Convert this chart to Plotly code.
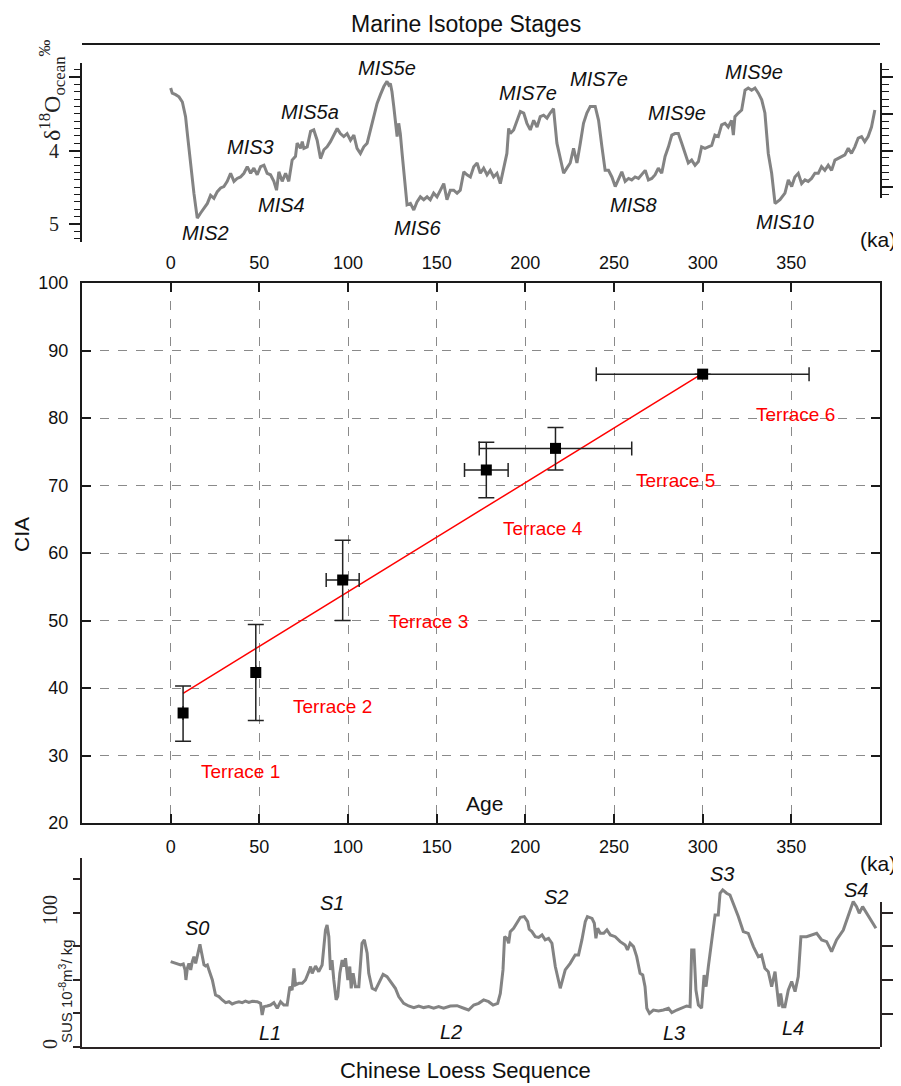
import plotly.graph_objects as go

# ---------------- data ----------------
MIS_AGE = [0.0, 0.9, 2.8, 4.7, 6.6, 7.5, 8.4, 9.4, 10.3, 11.3,
           12.2, 13.1, 14.1, 15.0, 16.9, 18.8, 20.7, 22.5, 24.4, 26.3,
           28.2, 30.0, 31.9, 33.8, 35.7, 37.5, 39.4, 41.3, 43.2, 45.1,
           46.9, 48.8, 50.7, 52.6, 54.4, 56.3, 58.2, 59.7, 61.0, 62.9,
           64.8, 66.6, 68.5, 70.4, 71.3, 73.2, 74.2, 75.1, 77.0, 78.9,
           80.7, 82.6, 84.5, 86.4, 88.2, 90.1, 92.0, 93.9, 95.7, 97.6,
           99.5, 101.4, 103.3, 105.1, 107.0, 108.9, 110.8, 112.6, 114.5, 116.4,
           118.3, 120.2, 122.0, 123.0, 123.9, 124.8, 125.8, 126.7, 127.7, 128.6,
           129.5, 130.5, 131.4, 132.4, 133.3, 135.2, 137.1, 138.9, 140.8, 142.7,
           144.6, 146.4, 148.3, 150.2, 152.1, 154.0, 155.8, 157.7,
           159.6, 161.5, 163.3, 165.3, 167.1, 169.0, 170.9, 172.8, 174.6, 176.5,
           178.4, 180.2, 182.1, 184.0, 185.9, 187.7, 189.6, 190.6, 191.5, 193.4,
           195.3, 197.2, 199.1, 200.9, 202.8, 204.7, 206.6, 208.4, 210.3, 212.2,
           214.0, 215.9, 217.8, 219.7, 221.6, 223.4, 225.3, 227.2, 229.1, 231.0,
           232.8, 234.7, 236.6, 239.4, 241.3, 243.2, 245.0, 246.9, 248.8, 250.7,
           252.5, 254.4, 256.3, 258.2, 260.0, 261.9, 263.8, 265.7, 267.6, 269.4,
           271.3, 273.2, 275.0, 276.9, 278.8, 280.7, 282.6, 284.4, 286.3, 288.2,
           290.1, 291.9, 293.8, 295.7, 297.6, 299.4, 301.3, 303.2, 305.1, 306.9,
           308.8, 310.7, 312.6, 314.4, 316.3, 317.3, 318.2, 320.1, 322.0, 323.9,
           325.7, 327.6, 329.5, 331.4, 333.3, 335.1, 337.0, 338.9, 340.8, 343.6,
           346.4, 348.3, 350.2, 352.0, 353.9, 355.8, 357.7, 359.5, 361.4, 363.3,
           365.2, 367.0, 368.9, 370.8, 372.7, 374.6, 376.4, 378.3, 380.2, 382.1,
           383.9, 385.8, 387.7, 389.6, 391.4, 393.3, 395.2, 397.1]
MIS_D18O = [3.15, 3.22, 3.24, 3.27, 3.34, 3.45, 3.54, 3.77, 3.99, 4.22,
            4.40, 4.58, 4.76, 4.92, 4.85, 4.79, 4.72, 4.61, 4.65, 4.56,
            4.51, 4.49, 4.42, 4.31, 4.42, 4.38, 4.36, 4.31, 4.22, 4.31,
            4.24, 4.33, 4.22, 4.20, 4.31, 4.33, 4.42, 4.54, 4.29, 4.42,
            4.31, 4.42, 4.13, 4.08, 3.90, 3.97, 3.88, 3.97, 3.95, 3.74,
            3.72, 3.86, 4.11, 3.99, 3.95, 3.88, 3.79, 3.70, 3.77, 3.81,
            3.77, 3.86, 3.79, 3.97, 4.04, 3.95, 3.90, 3.72, 3.52, 3.36,
            3.24, 3.13, 3.06, 3.11, 3.09, 3.20, 3.40, 3.63, 3.81, 3.63,
            3.77, 4.04, 4.27, 4.54, 4.74, 4.72, 4.81, 4.70, 4.63, 4.67,
            4.63, 4.67, 4.58, 4.63, 4.54, 4.45, 4.67, 4.54,
            4.54, 4.58, 4.54, 4.29, 4.33, 4.36, 4.22, 4.17, 4.31, 4.24,
            4.33, 4.27, 4.36, 4.31, 4.45, 4.27, 4.04, 3.70, 3.77, 3.72,
            3.59, 3.47, 3.49, 3.63, 3.72, 3.59, 3.68, 3.54, 3.52, 3.56,
            3.49, 3.43, 3.90, 4.13, 4.31, 4.24, 4.17, 3.97, 4.17, 3.90,
            3.63, 3.49, 3.40, 3.40, 3.59, 3.95, 4.27, 4.27, 4.36, 4.49,
            4.40, 4.29, 4.42, 4.38, 4.40, 4.36, 4.38, 4.33, 4.27, 4.40,
            4.38, 4.33, 4.24, 4.31, 4.08, 3.95, 3.79, 3.77, 3.77, 3.90,
            4.04, 4.17, 4.13, 4.20, 4.15, 3.95, 3.97, 3.95, 3.93, 3.79,
            3.81, 3.65, 3.63, 3.68, 3.59, 3.79, 3.54, 3.49, 3.45, 3.18,
            3.15, 3.18, 3.15, 3.22, 3.31, 3.49, 4.04, 4.31, 4.72, 4.67,
            4.58, 4.40, 4.49, 4.36, 4.31, 4.45, 4.40, 4.42, 4.38, 4.31,
            4.31, 4.22, 4.27, 4.20, 4.27, 4.13, 4.11, 4.08, 4.06, 3.97,
            4.04, 3.95, 3.83, 3.81, 3.88, 3.81, 3.68, 3.45]

MIS_LABELS = ["MIS2", "MIS3", "MIS4", "MIS5a", "MIS5e", "MIS6", "MIS7e", "MIS7e",
              "MIS8", "MIS9e", "MIS9e", "MIS10"]
MIS_LABEL_AGE = [19.7, 45.1, 62.5, 78.8, 122.2, 139.2, 201.6, 241.3, 260.8, 285.7, 328.9, 346.4]
MIS_LABEL_VAL = [5.12, 3.95, 4.74, 3.48, 2.88, 5.05, 3.22, 3.03, 4.74, 3.49, 2.93, 4.97]

TERRACES = ["Terrace 1", "Terrace 2", "Terrace 3", "Terrace 4", "Terrace 5", "Terrace 6"]
AGE = [7, 48, 97, 178, 217, 300]
CIA = [36.3, 42.3, 56.0, 72.3, 75.5, 86.5]
CIA_ERR_PLUS = [4.0, 7.1, 5.9, 4.1, 3.1, None]
CIA_ERR_MINUS = [4.2, 7.1, 6.0, 4.1, 3.2, None]
AGE_ERR = [None, None, 9.3, 12.3, 43, 60]
TERRACE_LABEL_AGE = [39.4, 91.2, 145.3, 210.0, 284.9, 352.5]
TERRACE_LABEL_CIA = [27.7, 37.3, 49.9, 63.7, 70.7, 80.5]
FIT_X = [7, 300]
FIT_SLOPE = 0.1618
FIT_INTERCEPT = 38.07

LOESS_AGE = [0.0, 1.9, 3.8, 5.6, 7.1, 8.1, 8.6, 9.4, 10.3, 11.3,
             12.2, 13.1, 14.1, 15.0, 16.0, 16.5, 17.5, 18.8, 19.7, 20.7,
             21.6, 23.5, 25.3, 27.2, 29.1, 31.0, 32.9, 34.7, 36.6, 38.5,
             40.4, 42.2, 44.1, 46.0, 48.8, 50.7, 51.6, 52.6, 54.4, 56.3,
             58.2, 60.1, 62.0, 63.8, 65.7, 67.2, 68.5, 69.5, 70.4, 72.3,
             74.2, 76.0, 77.9, 78.9, 79.8, 81.7, 83.5, 85.4, 86.4, 87.3,
             88.2, 89.2, 90.1, 91.0, 92.0, 93.3, 94.2, 95.4, 96.7, 97.6,
             98.6, 99.9, 101.0, 101.8, 102.9, 104.2, 106.1, 107.0, 107.9, 109.2,
             110.8, 111.7, 113.6, 115.5, 117.3, 119.8, 122.0, 124.8, 126.7, 128.6,
             131.4, 134.2, 137.1, 139.9, 142.7, 145.5, 148.3, 151.1, 153.9, 157.7,
             161.5, 165.3, 168.0, 170.9, 173.7, 176.5, 179.3, 181.8, 184.4, 185.9,
             187.4, 188.3, 189.6, 190.6, 191.5, 193.4, 195.3, 197.2, 199.4, 201.3,
             202.2, 203.7, 205.6, 207.5, 209.4, 211.2, 213.1, 215.0, 216.9, 219.7,
             222.5, 225.3, 228.1, 230.0, 231.9, 233.8, 235.0, 237.6, 238.9, 239.8,
             240.8, 242.3, 244.2, 246.0, 247.9, 250.7, 253.5, 256.3, 257.6, 259.1,
             261.0, 262.8, 264.7, 266.2, 267.5, 268.5, 270.0, 272.2, 275.1, 277.9,
             280.7, 282.6, 285.4, 288.2, 291.0, 292.9, 293.8, 295.1, 296.2, 297.6,
             299.4, 300.8, 301.9, 303.2, 305.1, 307.0, 308.8, 309.8, 311.3, 313.5,
             315.4, 317.3, 320.1, 322.9, 325.7, 328.6, 331.4, 333.2, 335.1, 337.0,
             338.9, 340.8, 342.1, 343.0, 344.0, 345.1, 346.4, 348.3, 350.2, 352.1,
             353.9, 355.4, 358.6, 361.5, 364.3, 367.1, 369.9, 372.7, 375.5, 379.3,
             382.1, 384.9, 386.8, 388.3, 390.2, 392.4, 395.3, 397.7]
LOESS_SUS = [63.7, 62.9, 62.4, 61.2, 61.9, 57.5, 50.0, 58.7, 62.4, 57.5,
             63.7, 67.4, 62.4, 68.7, 74.9, 76.6, 69.9, 61.2, 60.4, 61.2,
             57.5, 50.0, 38.8, 37.6, 35.1, 33.1, 33.8, 32.1, 33.1, 33.8,
             33.1, 34.3, 33.3, 34.1, 33.8, 32.6, 23.9, 30.1, 30.6, 31.3,
             33.1, 28.9, 33.8, 31.3, 31.3, 45.0, 42.5, 58.7, 46.3, 47.5,
             47.5, 50.0, 56.2, 60.0, 55.0, 60.4, 56.2, 61.2, 74.9, 87.3,
             91.0, 82.3, 57.5, 64.9, 50.0, 35.1, 37.6, 55.0, 64.9, 60.0,
             66.2, 50.0, 60.0, 43.8, 55.0, 45.0, 45.0, 64.9, 77.4, 79.9,
             69.9, 55.0, 43.8, 42.5, 47.5, 54.2, 52.5, 47.5, 43.8, 37.6,
             32.6, 30.6, 29.4, 30.6, 29.4, 30.1, 28.9, 30.1, 28.9, 30.6,
             30.8, 28.9, 27.6, 31.3, 32.6, 35.1, 33.8, 31.3, 32.6, 40.0,
             57.5, 82.3, 81.1, 77.4, 86.1, 88.6, 92.3, 96.8, 97.3, 93.5,
             87.8, 86.1, 82.3, 81.8, 83.6, 79.9, 81.1, 77.4, 60.0, 43.8,
             57.5, 62.4, 68.7, 68.7, 79.9, 93.5, 97.3, 96.0, 92.3, 81.1,
             88.6, 84.8, 84.8, 87.3, 83.6, 82.3, 78.6, 76.1, 72.4, 77.4,
             74.9, 67.4, 55.0, 53.7, 45.0, 28.9, 25.1, 27.6, 26.9, 27.6,
             28.9, 25.6, 27.6, 28.9, 30.6, 30.1, 72.4, 72.4, 42.5, 31.3,
             28.9, 53.7, 45.0, 60.0, 79.9, 98.5, 98.5, 114.7, 117.2, 114.7,
             113.4, 107.2, 97.3, 86.1, 84.8, 74.9, 67.4, 68.7, 58.7, 56.2,
             45.0, 56.2, 42.5, 30.1, 40.0, 30.1, 30.1, 42.5, 48.8, 41.3,
             52.5, 82.3, 82.3, 83.6, 84.8, 79.9, 78.6, 71.1, 79.9, 87.3,
             98.5, 108.5, 104.7, 99.8, 104.7, 99.8, 93.5, 88.6]

LOESS_LABELS = ["S0", "S1", "L1", "L2", "S2", "S3", "L3", "L4", "S4"]
LOESS_LABEL_AGE = [14.6, 90.8, 55.8, 158.2, 217.4, 310.9, 283.9, 350.8, 386.4]
LOESS_LABEL_VAL = [88.8, 107.5, 10.4, 11.2, 111.9, 129.1, 10.4, 14.2, 117.2]

AGE_TICKS = [0, 50, 100, 150, 200, 250, 300, 350]

# ---------------- figure ----------------
OFF = 8                     # page body margin
W, H = 901 - OFF, 1086 - OFF
SANS = "Liberation Sans, Arial, sans-serif"
SERIF = "Liberation Serif, Times New Roman, serif"
GRAY = "#838383"
AX = "#1a1a1a"
AX2 = "#2a2424"


def px(x):
    return (x - OFF) / W


def py(y):
    return 1 - (y - OFF) / H


XDOM = [px(82), px(880)]
fig = go.Figure()

# top: marine isotope curve
fig.add_trace(go.Scatter(x=MIS_AGE, y=MIS_D18O, mode="lines", xaxis="x", yaxis="y",
                         line=dict(color=GRAY, width=3), showlegend=False, hoverinfo="skip"))
fig.add_trace(go.Scatter(x=[None], y=[None], xaxis="x", yaxis="y4", showlegend=False,
                         hoverinfo="skip"))

# middle: CIA vs age
fit_y = [FIT_INTERCEPT + FIT_SLOPE * v for v in FIT_X]
fig.add_trace(go.Scatter(x=FIT_X, y=fit_y, mode="lines", xaxis="x2", yaxis="y2",
                         line=dict(color="#ff0000", width=1.5), showlegend=False))
fig.add_trace(go.Scatter(x=AGE, y=CIA, mode="markers", xaxis="x2", yaxis="y2",
                         marker=dict(symbol="square", size=11, color="black"),
                         error_y=dict(type="data", symmetric=False, array=CIA_ERR_PLUS,
                                      arrayminus=CIA_ERR_MINUS, color="#222", thickness=1.5, width=8),
                         error_x=dict(type="data", array=AGE_ERR, color="#222", thickness=1.5, width=7),
                         showlegend=False))

# bottom: loess susceptibility
fig.add_trace(go.Scatter(x=LOESS_AGE, y=LOESS_SUS, mode="lines", xaxis="x3", yaxis="y3",
                         line=dict(color=GRAY, width=3), showlegend=False, hoverinfo="skip"))
fig.add_trace(go.Scatter(x=[None], y=[None], xaxis="x3", yaxis="y5", showlegend=False,
                         hoverinfo="skip"))


def note(text, x, y, xref="paper", yref="paper", size=20, family=SANS, color="#111",
         angle=0, xanchor="center"):
    if xref == "paper":
        x = px(x)
    if yref == "paper":
        y = py(y)
    return dict(text=text, xref=xref, yref=yref, x=x, y=y, showarrow=False,
                xanchor=xanchor, yanchor="middle", textangle=angle,
                font=dict(family=family, size=size, color=color))


annotations = [
    note("Marine Isotope Stages", 466, 24, size=23),
    note("δ<sup>18</sup>O<sub>ocean</sub><sup>‰</sup>", 52, 90, size=24, family=SERIF,
         color="#222", angle=-90),
    note("(ka)", 898, 239, size=21, xanchor="right"),
    note("Age", 484, 803, size=21),
    note("CIA", 21, 535, size=21, angle=-90),
    note("(ka)", 898, 863, size=21, xanchor="right"),
    note("SUS 10<sup>-8</sup>m<sup>3</sup>/ kg", 65, 991, size=15, color="#222", angle=-90),
    note("Chinese Loess Sequence", 466, 1070, size=22),
]
for t, a, v in zip(MIS_LABELS, MIS_LABEL_AGE, MIS_LABEL_VAL):
    annotations.append(note(f"<i>{t}</i>", a, v, xref="x", yref="y", size=20))
for t, a, v in zip(TERRACES, TERRACE_LABEL_AGE, TERRACE_LABEL_CIA):
    annotations.append(note(t, a, v, xref="x2", yref="y2", size=19, color="#ff0000"))
for t, a, v in zip(LOESS_LABELS, LOESS_LABEL_AGE, LOESS_LABEL_VAL):
    annotations.append(note(f"<i>{t}</i>", a, v, xref="x3", yref="y3", size=20))

shapes = [dict(type="line", xref="paper", yref="paper", x0=XDOM[0], x1=XDOM[1], y0=py(44), y1=py(44),
               line=dict(color=AX, width=2))]

minor_top = dict(tickmode="linear", tick0=0, dtick=0.1, ticks="outside", ticklen=6,
                 tickwidth=1.2, tickcolor=AX, showgrid=False)

fig.update_layout(
    width=W, height=H, margin=dict(l=0, r=0, t=0, b=0, pad=0), autosize=False,
    paper_bgcolor="white", plot_bgcolor="rgba(0,0,0,0)",
    annotations=annotations, shapes=shapes, showlegend=False,
    xaxis=dict(domain=XDOM, range=[-50, 400], anchor="free", position=py(250), automargin=False,
               showline=False, ticks="", tickvals=AGE_TICKS, showgrid=False, zeroline=False,
               tickfont=dict(family=SANS, size=18, color="#111")),
    yaxis=dict(domain=[py(242), py(63)], range=[5.2449, 2.8095], anchor="x", automargin=False,
               showline=True, linecolor=AX, linewidth=2, ticks="outside", ticklen=11, tickwidth=1.5,
               tickcolor=AX, tickvals=[3, 4, 5], ticktext=["", "4", "5"], showgrid=False, zeroline=False,
               ticklabelstandoff=6, minor=minor_top,
               tickfont=dict(family=SERIF, size=20, color="#222")),
    yaxis4=dict(domain=[py(198), py(63)], range=[4.6463, 2.8095], anchor="x", side="right",
                automargin=False,
                showline=True, linecolor=AX, linewidth=2, ticks="outside", ticklen=12, tickwidth=1.5,
                tickcolor=AX, tickvals=[3, 3.5, 4, 4.5], showticklabels=False, showgrid=False,
                zeroline=False, minor=dict(minor_top, ticklen=7)),
    xaxis2=dict(domain=XDOM, range=[-50, 400], anchor="y2", tickvals=AGE_TICKS, automargin=False,
                showline=True, linecolor=AX, linewidth=2, mirror="ticks", ticks="inside", ticklen=9,
                tickwidth=1.5, tickcolor=AX, showgrid=True, gridcolor="#8a8a8a", griddash="dash",
                gridwidth=1, zeroline=False, ticklabelstandoff=6,
                tickfont=dict(family=SANS, size=18, color="#111")),
    yaxis2=dict(domain=[py(823), py(283)], range=[20, 100], anchor="x2", tickmode="linear", tick0=20,
                dtick=10, automargin=False,
                showline=True, linecolor=AX, linewidth=2, mirror="ticks", ticks="inside",
                ticklen=9, tickwidth=1.5, tickcolor=AX, showgrid=True, gridcolor="#8a8a8a",
                griddash="dash", gridwidth=1, zeroline=False, ticklabelstandoff=8,
                tickfont=dict(family=SANS, size=18, color="#111")),
    xaxis3=dict(domain=XDOM, range=[-50, 400], anchor="y3", automargin=False,
                showline=True, linecolor=AX2,
                linewidth=2, ticks="", showticklabels=False, showgrid=False, zeroline=False),
    yaxis3=dict(domain=[py(1047), py(858)], range=[0, 141], anchor="x3", automargin=False,
                showline=True, linecolor=AX2, linewidth=2, ticks="outside", ticklen=7,
                tickwidth=1.5, tickcolor=AX2, tickvals=[0, 25, 50, 75, 100, 125],
                ticktext=["0", "", "", "", "100", ""], tickangle=-90, ticklabelstandoff=8,
                showgrid=False, zeroline=False, tickfont=dict(family=SERIF, size=20, color="#222")),
    yaxis5=dict(domain=[py(1047), py(902)], range=[0, 108.2], anchor="x3", side="right",
                automargin=False,
                showline=True, linecolor=AX2, linewidth=2, ticks="outside", ticklen=12,
                tickwidth=1.5, tickcolor=AX2, tickvals=[25, 50, 75, 100],
                showticklabels=False, showgrid=False, zeroline=False),
)

fig.write_html("out.html")
